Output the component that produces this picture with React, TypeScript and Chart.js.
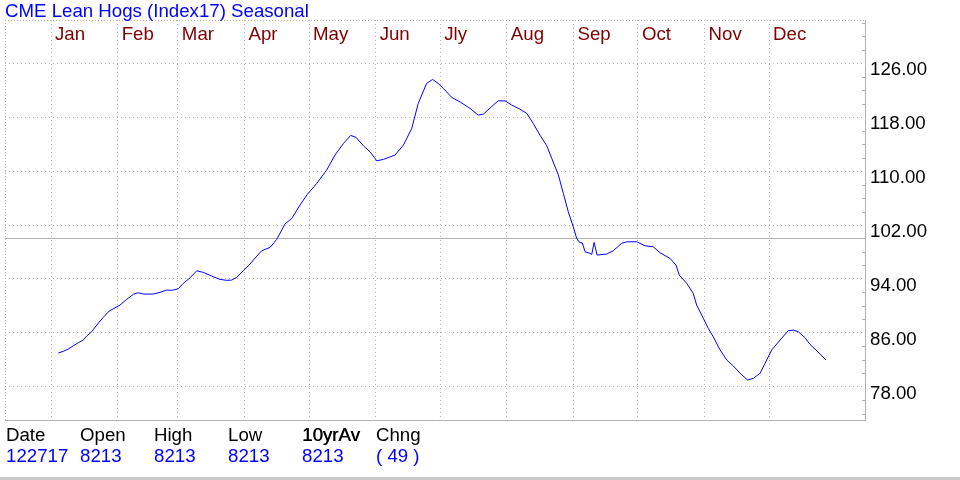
import React, { useEffect, useRef } from 'react';
import { Chart, registerables } from 'chart.js';

Chart.register(...registerables);

const TITLE = 'CME Lean Hogs (Index17) Seasonal';
const monthLabels = ['Jan', 'Feb', 'Mar', 'Apr', 'May', 'Jun', 'Jly', 'Aug', 'Sep', 'Oct', 'Nov', 'Dec'];
const monthStartDays = [0, 31, 59, 90, 120, 151, 181, 212, 243, 273, 304, 334];
const priceTicks = [78, 86, 94, 102, 110, 118, 126];
const refLevel = 100;

const seasonalDays = [
  3.4, 5.7, 8.0, 10.4, 12.7, 15.0, 16.6, 18.9, 21.3, 24.3, 27.1, 29.8, 32.1, 35.2, 38.3, 40.6, 42.9, 47.6, 50.7, 53.8,
  56.1, 59.2, 61.5, 64.7, 67.8, 70.8, 75.5, 78.6, 81.7, 84.0, 86.4, 89.4, 92.2, 94.4, 98.0, 101.9, 105.0, 108.8, 112.0, 115.8,
  119.2, 123.6, 128.2, 132.1, 136.0, 139.4, 141.9, 145.3, 148.4, 151.5, 154.6, 160.0, 163.9, 167.8, 170.8, 174.7, 177.5, 180.1, 182.5, 186.4,
  190.2, 194.9, 198.7, 201.1, 205.7, 208.0, 211.2, 214.3, 218.1, 221.3, 224.3, 227.4, 230.6, 232.9, 236.0, 238.3, 240.6, 242.9, 244.5, 246.0,
  247.1, 248.4, 250.7, 251.5, 252.6, 254.0, 258.5, 261.5, 265.4, 267.8, 272.4, 276.3, 280.1, 283.3, 287.9, 290.7, 292.2, 295.7, 298.7, 300.3,
  303.4, 305.7, 308.0, 311.2, 314.3, 317.4, 320.5, 324.0, 326.7, 329.8, 332.1, 335.2, 339.1, 342.9, 345.3, 347.6, 350.7, 353.0, 357.7, 360.5,
];
const seasonalValues = [
  83.0, 83.25, 83.59, 84.08, 84.53, 84.93, 85.52, 86.16, 87.15, 88.3, 89.23, 89.72, 90.12, 90.97, 91.71, 91.95, 91.75, 91.75, 92.01, 92.35,
  92.3, 92.54, 93.34, 94.17, 95.21, 94.97, 94.32, 93.93, 93.79, 93.83, 94.23, 95.21, 96.06, 96.9, 98.18, 98.68, 99.87, 102.14, 102.99, 104.96,
  106.55, 108.18, 110.15, 112.38, 114.11, 115.3, 115.0, 113.76, 112.87, 111.53, 111.74, 112.38, 113.86, 116.34, 120.05, 123.01, 123.61, 123.01, 122.27, 120.94,
  120.28, 119.31, 118.31, 118.46, 119.8, 120.43, 120.43, 119.8, 119.2, 118.56, 117.08, 115.34, 113.76, 111.89, 109.41, 106.69, 103.96, 101.74, 100.02, 99.36,
  99.36, 98.03, 97.79, 97.64, 99.42, 97.54, 97.69, 98.18, 99.28, 99.51, 99.51, 98.92, 98.77, 97.88, 97.05, 96.06, 94.57, 93.34, 91.86, 90.12,
  88.15, 86.66, 85.42, 83.45, 81.96, 81.07, 79.99, 78.99, 79.25, 79.99, 81.47, 83.45, 84.93, 86.31, 86.41, 86.16, 85.27, 84.29, 82.85, 81.96,
];

const tableHeaders = ['Date', 'Open', 'High', 'Low', '10yrAv', 'Chng'];
const tableValues = ['122717', '8213', '8213', '8213', '8213', '( 49 )'];

const X_MIN = -21.4;
const X_MAX = 378.6;
const Y_MIN = 73.06;
const Y_MAX = 132.43;

const FAMILY = '"Liberation Sans", Arial, sans-serif';
const FONT = `18.67px ${FAMILY}`;
const GRID = '#b4b4b4';
const FRAME = '#b0b0b0';

const overlay = {
  id: 'overlay',
  afterDraw(chart: any) {
    const { ctx, chartArea: a, scales } = chart;
    const xs = scales.x;
    const ys = scales.y;
    ctx.save();
    // dotted top & left frame
    ctx.strokeStyle = GRID;
    ctx.lineWidth = 1;
    ctx.setLineDash([1, 2]);
    ctx.beginPath();
    ctx.moveTo(a.left, a.top + 0.5);
    ctx.lineTo(a.right, a.top + 0.5);
    ctx.moveTo(a.left + 0.5, a.top);
    ctx.lineTo(a.left + 0.5, a.bottom);
    ctx.stroke();
    // solid right & bottom frame
    ctx.setLineDash([]);
    ctx.strokeStyle = FRAME;
    ctx.beginPath();
    ctx.moveTo(a.right + 0.5, a.top);
    ctx.lineTo(a.right + 0.5, a.bottom + 1);
    ctx.moveTo(a.left, a.bottom + 0.5);
    ctx.lineTo(a.right + 1, a.bottom + 0.5);
    ctx.stroke();
    // minor ticks on the price axis
    ctx.beginPath();
    for (let v = Math.ceil(Y_MIN / 2) * 2; v <= Y_MAX; v += 2) {
      if (priceTicks.includes(v)) continue;
      const y = Math.round(ys.getPixelForValue(v)) + 0.5;
      ctx.moveTo(a.right - 3, y);
      ctx.lineTo(a.right, y);
    }
    ctx.stroke();
    // title
    ctx.font = FONT;
    ctx.textAlign = 'left';
    ctx.textBaseline = 'alphabetic';
    ctx.fillStyle = '#0000ff';
    ctx.fillText(TITLE, 5, 17);
    // month labels
    ctx.fillStyle = '#800000';
    monthLabels.forEach((m, i) => {
      const x = xs.getPixelForValue(monthStartDays[i]) + 4;
      ctx.fillText(m, x, 40);
    });
    // data table
    const colX = [6, 80, 154, 228, 302, 376];
    tableHeaders.forEach((h, i) => {
      ctx.fillStyle = '#000000';
      ctx.fillText(h, colX[i], 441);
      if (h === '10yrAv') ctx.fillText(h, colX[i] + 0.5, 441);
    });
    ctx.fillStyle = '#0000ff';
    tableValues.forEach((v, i) => ctx.fillText(v, colX[i], 462));
    // bottom window band
    ctx.fillStyle = '#c8c8c8';
    ctx.fillRect(0, 477, 960, 3);
    ctx.restore();
  },
};

export default function App() {
  const ref = useRef<HTMLCanvasElement | null>(null);
  useEffect(() => {
    document.body.style.margin = '0';
    const canvas = ref.current;
    if (!canvas) return;
    const chart = new Chart(canvas, {
      type: 'line',
      data: {
        datasets: [
          {
            label: 'Seasonal',
            data: seasonalDays.map((d, i) => ({ x: d, y: seasonalValues[i] })),
            borderColor: '#0000ff',
            borderWidth: 1,
            pointRadius: 0,
            tension: 0,
            fill: false,
            order: 1,
          },
          {
            label: 'Ref',
            data: [
              { x: X_MIN, y: refLevel },
              { x: X_MAX, y: refLevel },
            ],
            borderColor: FRAME,
            borderWidth: 1,
            pointRadius: 0,
            fill: false,
            order: 2,
          },
        ],
      },
      options: {
        animation: false,
        responsive: false,
        devicePixelRatio: 1,
        layout: { padding: { left: 5, top: 20, right: 0, bottom: 0 } },
        plugins: {
          legend: { display: false },
          tooltip: { enabled: false },
          title: { display: false },
        },
        scales: {
          x: {
            type: 'linear',
            position: 'bottom',
            min: X_MIN,
            max: X_MAX,
            afterBuildTicks: (s: any) => {
              s.ticks = monthStartDays.map((v) => ({ value: v }));
            },
            afterFit: (s: any) => {
              s.height = 60;
            },
            ticks: { display: false },
            grid: { color: GRID, lineWidth: 1, drawTicks: false },
            border: { display: false, dash: [1, 3] },
          },
          y: {
            type: 'linear',
            position: 'right',
            min: Y_MIN,
            max: Y_MAX,
            afterBuildTicks: (s: any) => {
              s.ticks = priceTicks.map((v) => ({ value: v }));
            },
            afterFit: (s: any) => {
              s.width = 95;
            },
            ticks: {
              color: '#000000',
              font: { family: FAMILY, size: 18.67 },
              padding: 5,
              labelOffset: 7,
              callback: (v: any) => Number(v).toFixed(2),
            },
            grid: { color: GRID, lineWidth: 1, drawTicks: false },
            border: { display: false, dash: [1, 3] },
          },
        },
      },
      plugins: [overlay],
    } as any);
    return () => chart.destroy();
  }, []);
  return (
    <div style={{ position: 'absolute', left: 0, top: 0, width: 960, height: 480, background: '#ffffff' }}>
      <canvas ref={ref} width={960} height={480} style={{ display: 'block' }} />
    </div>
  );
}
